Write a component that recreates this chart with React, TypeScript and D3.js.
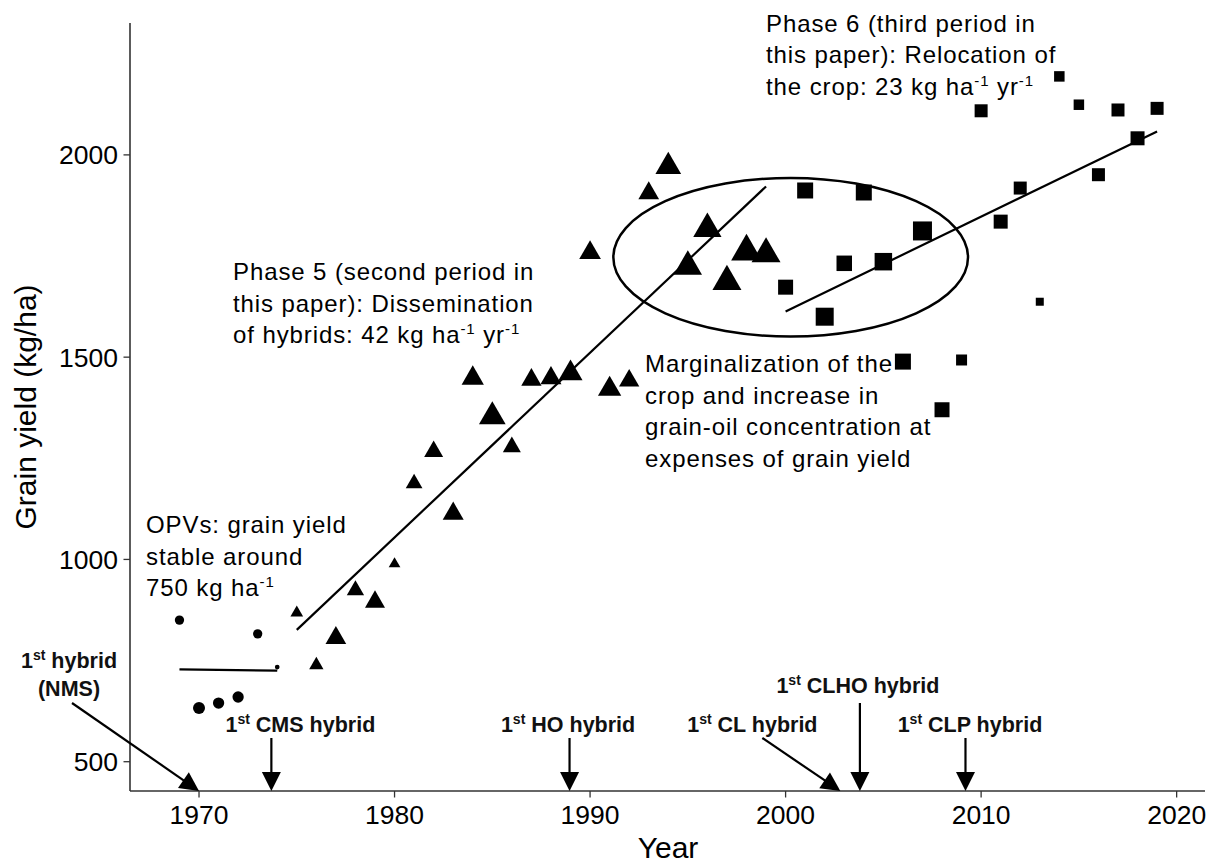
import React from 'react';
import * as d3 from 'd3';

const W = 1215;
const H = 863;
const FONT = "'Liberation Sans', Arial, sans-serif";

// open-pollinated varieties (circles)
const opvYears = [1969, 1970, 1971, 1972, 1973, 1974];
const opvYield = [850, 633, 645, 660, 816, 734];
const opvSize = [9.3, 12, 11.3, 11.3, 9.3, 4.7];

// phase 5: dissemination of hybrids (triangles)
const hybYears = [1975, 1976, 1977, 1978, 1979, 1980, 1981, 1982, 1983, 1984, 1985, 1986, 1987,
  1988, 1989, 1990, 1991, 1992, 1993, 1994, 1995, 1996, 1997, 1998, 1999];
const hybYield = [868, 739, 806, 924, 895, 989, 1188, 1267, 1113, 1448, 1353, 1278, 1444,
  1448, 1460, 1758, 1421, 1442, 1905, 1971, 1724, 1817, 1687, 1761, 1755];
const hybSize = [12.7, 14.3, 20.7, 17.3, 20, 11.7, 16.7, 19, 21, 22.3, 26.7, 18, 20.3,
  21, 24, 21.7, 23.3, 20.3, 20.7, 25.7, 28.3, 28.3, 29, 30.7, 29];

// phase 6: relocation of the crop (squares)
const relYears = [2000, 2001, 2002, 2003, 2004, 2005, 2006, 2007, 2008, 2009,
  2010, 2011, 2012, 2013, 2014, 2015, 2016, 2017, 2018, 2019];
const relYield = [1673, 1912, 1600, 1732, 1907, 1736, 1489, 1812, 1370, 1493,
  2109, 1835, 1918, 1637, 2194, 2124, 1951, 2111, 2041, 2115];
const relSize = [15, 16, 18, 15.5, 16, 17.5, 16, 19, 15, 11,
  13, 14, 13, 8, 10.5, 10.5, 13, 13, 14, 13];

// fitted lines (start / end)
const opvFitYears = [1969, 1974];
const opvFitYield = [728, 725];
const hybFitYears = [1975, 1999];
const hybFitYield = [826, 1922];
const relFitYears = [2000, 2019];
const relFitYield = [1613, 2058];

// ellipse marking the overlap period
const ellipseCenter = [2000.26, 1747];
const ellipseRadius = [9.07, 196];

// release of hybrid types
const releaseYears = [1970, 1973.7, 1988.95, 2002.8, 2003.8, 2009.2];
const releaseNames = ['hybrid', 'CMS hybrid', 'HO hybrid', 'CL hybrid', 'CLHO hybrid', 'CLP hybrid'];

const xTicks = [1970, 1980, 1990, 2000, 2010, 2020];
const yTicks = [500, 1000, 1500, 2000];

// note text: lines, each a list of [text, superscript?]
type Seg = [string, boolean];
const notePhase6: Seg[][] = [
  [['Phase 6 (third period in', false]],
  [['this paper): Relocation of', false]],
  [['the crop: 23 kg ha', false], ['-1', true], [' yr', false], ['-1', true]],
];
const notePhase5: Seg[][] = [
  [['Phase 5 (second period in', false]],
  [['this paper): Dissemination', false]],
  [['of hybrids: 42 kg ha', false], ['-1', true], [' yr', false], ['-1', true]],
];
const noteMarginal: Seg[][] = [
  [['Marginalization of the', false]],
  [['crop and increase in', false]],
  [['grain-oil concentration at', false]],
  [['expenses of grain yield', false]],
];
const noteOpv: Seg[][] = [
  [['OPVs: grain yield', false]],
  [['stable around', false]],
  [['750 kg ha', false], ['-1', true]],
];

const x = d3.scaleLinear().domain([1966.47, 2021.45]).range([130, 1205]);
const y = d3.scaleLinear().domain([427.6, 2326]).range([791, 23]);
const sizeScale = d3.scaleLinear().domain([0, 30]).range([0, 30]);

const triPath = (w: number) => d3.symbol().type(d3.symbolTriangle).size(Math.sqrt(3) * w * w / 4)()!;
const sqPath = (w: number) => d3.symbol().type(d3.symbolSquare).size(w * w)()!;

const Note = ({ x0, y0, lines }: { x0: number; y0: number; lines: Seg[][] }) => (
  <g fontFamily={FONT} fontSize={24} fill="#000" letterSpacing={0.9}>
    {lines.map((segs, i) => (
      <text key={i} x={x0} y={y0 + i * 31.5}>
        {segs.map(([t, sup], j) => {
          const prevSup = j > 0 && segs[j - 1][1];
          const dy = sup ? -9 : prevSup ? 9 : 0;
          return (
            <tspan key={j} dy={dy} fontSize={sup ? 15 : 24}>{t}</tspan>
          );
        })}
      </text>
    ))}
  </g>
);

const Arrow = ({ x1, y1, x2, y2 }: { x1: number; y1: number; x2: number; y2: number }) => {
  const len = Math.hypot(x2 - x1, y2 - y1);
  const ux = (x2 - x1) / len, uy = (y2 - y1) / len;
  const hl = 19, hw = 9.5;
  const bx = x2 - ux * hl, by = y2 - uy * hl;
  const px = -uy, py = ux;
  return (
    <g>
      <line x1={x1} y1={y1} x2={bx + ux * 2} y2={by + uy * 2} stroke="#000" strokeWidth={2.2} />
      <polygon points={`${x2},${y2} ${bx + px * hw},${by + py * hw} ${bx - px * hw},${by - py * hw}`} fill="#000" />
    </g>
  );
};

const BoldLabel = ({ cx, by, name }: { cx: number; by: number; name: string }) => (
  <text x={cx} y={by} textAnchor="middle" fontFamily={FONT} fontWeight="bold" fontSize={21.5} fill="#111">
    1<tspan dy={-8} fontSize={14}>st</tspan><tspan dy={8}> {name}</tspan>
  </text>
);

export default function App() {
  const line = d3.line<[number, number]>().x(d => x(d[0])).y(d => y(d[1]));
  const fit = (ys: number[], vs: number[]) => line(ys.map((v, i) => [v, vs[i]] as [number, number]))!;

  const axisY = y.range()[0];
  const ex = x(ellipseCenter[0]);
  const ey = y(ellipseCenter[1]);
  const erx = x(ellipseCenter[0] + ellipseRadius[0]) - ex;
  const ery = ey - y(ellipseCenter[1] + ellipseRadius[1]);

  // label layout for the release arrows (pixel offsets from the arrow tip)
  const layout = [
    { dx: -130, by: 668, sx: -127, sy: 703 },
    { dx: 29, by: 732, sx: 0, sy: 738 },
    { dx: -1.5, by: 732, sx: 0, sy: 738 },
    { dx: -88, by: 732, sx: -78, sy: 738 },
    { dx: -2, by: 693, sx: 0, sy: 703 },
    { dx: 4.5, by: 732, sx: 0, sy: 738 },
  ];

  return (
    <svg width={W} height={H} style={{ position: 'absolute', left: 0, top: 0, background: '#fff' }}>
      {/* axes */}
      <line x1={130} y1={23} x2={130} y2={axisY} stroke="#333" strokeWidth={1.6} />
      <line x1={130} y1={axisY} x2={1205} y2={axisY} stroke="#333" strokeWidth={1.6} />
      {xTicks.map(t => (
        <g key={t}>
          <line x1={x(t)} x2={x(t)} y1={axisY} y2={axisY + 6.5} stroke="#333" strokeWidth={1.3} />
          <text x={x(t)} y={824} textAnchor="middle" fontFamily={FONT} fontSize={26.5} fill="#000">{t}</text>
        </g>
      ))}
      {yTicks.map(t => (
        <g key={t}>
          <line x1={123.5} x2={130} y1={y(t)} y2={y(t)} stroke="#333" strokeWidth={1.3} />
          <text x={118} y={y(t)} dy="0.36em" textAnchor="end" fontFamily={FONT} fontSize={26.5} fill="#000">{t}</text>
        </g>
      ))}
      <text x={668} y={858} textAnchor="middle" fontFamily={FONT} fontSize={30} fill="#000">Year</text>
      <text transform={`translate(36,407) rotate(-90)`} textAnchor="middle" fontFamily={FONT} fontSize={30} fill="#000">
        Grain yield (kg/ha)
      </text>

      {/* ellipse */}
      <ellipse cx={ex} cy={ey} rx={erx} ry={ery} fill="none" stroke="#000" strokeWidth={2.5} />

      {/* fitted lines */}
      <path d={fit(opvFitYears, opvFitYield)} stroke="#000" strokeWidth={2.2} fill="none" />
      <path d={fit(hybFitYears, hybFitYield)} stroke="#000" strokeWidth={2.2} fill="none" />
      <path d={fit(relFitYears, relFitYield)} stroke="#000" strokeWidth={2.2} fill="none" />

      {/* points */}
      {opvYears.map((yr, i) => (
        <circle key={yr} cx={x(yr)} cy={y(opvYield[i])} r={sizeScale(opvSize[i]) / 2} fill="#000" />
      ))}
      {hybYears.map((yr, i) => (
        <path key={yr} transform={`translate(${x(yr)},${y(hybYield[i])})`} d={triPath(sizeScale(hybSize[i]))} fill="#000" />
      ))}
      {relYears.map((yr, i) => (
        <path key={yr} transform={`translate(${x(yr)},${y(relYield[i])})`} d={sqPath(sizeScale(relSize[i]))} fill="#000" />
      ))}

      {/* notes */}
      <Note x0={766} y0={31.5} lines={notePhase6} />
      <Note x0={233} y0={280} lines={notePhase5} />
      <Note x0={645} y0={372} lines={noteMarginal} />
      <Note x0={146} y0={533} lines={noteOpv} />

      {/* release arrows */}
      {releaseYears.map((yr, i) => {
        const tx = x(yr);
        const l = layout[i];
        return (
          <g key={yr}>
            <Arrow x1={tx + l.sx} y1={l.sy} x2={tx} y2={axisY} />
            <BoldLabel cx={tx + l.dx} by={l.by} name={releaseNames[i]} />
            {i === 0 && (
              <text x={tx + l.dx} y={696} textAnchor="middle" fontFamily={FONT} fontWeight="bold" fontSize={21.5} fill="#111">(NMS)</text>
            )}
          </g>
        );
      })}
    </svg>
  );
}
